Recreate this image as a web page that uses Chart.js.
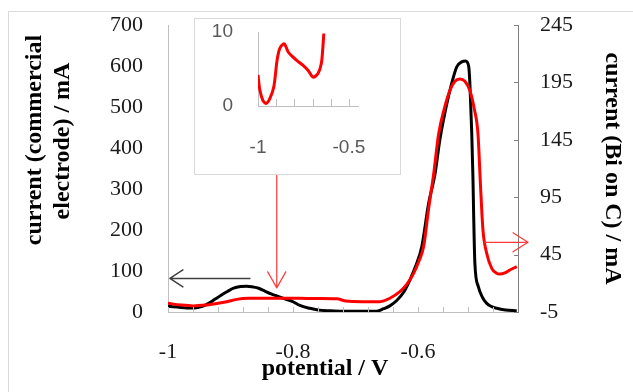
<!DOCTYPE html>
<html><head><meta charset="utf-8">
<script src="https://cdn.jsdelivr.net/npm/chart.js@4.4.1/dist/chart.umd.min.js"></script>
<style>
html,body{margin:0;padding:0;background:#fff;overflow:hidden;width:633px;height:392px;}
#frame{position:absolute;left:8px;top:11px;width:700px;height:500px;border:1px solid #d9d9d9;}
#main{position:absolute;left:0;top:0;}
#insetBox{position:absolute;left:194px;top:18px;width:205px;height:155px;border:1px solid #d9d9d9;background:#fff;}
#inset{position:absolute;left:0;top:0;}
</style></head><body>
<div id="frame"></div>
<canvas id="main" width="633" height="392"></canvas>
<div id="insetBox"><canvas id="inset" width="205" height="155"></canvas></div>
<script>
// ---- data ----
const potentialBlack = [-1.000,-0.985,-0.970,-0.958,-0.945,-0.935,-0.925,-0.915,-0.905,-0.895,-0.884,-0.874,-0.864,-0.855,-0.845,-0.835,-0.826,-0.813,-0.800,-0.789,-0.773,-0.760,-0.740,-0.720,-0.700,-0.680,-0.666,-0.655,-0.645,-0.634,-0.623,-0.613,-0.603,-0.594,-0.583,-0.573,-0.565,-0.555,-0.546,-0.538,-0.530,-0.524,-0.519,-0.517,-0.514,-0.512,-0.511,-0.509,-0.5035,-0.497,-0.490,-0.482,-0.474,-0.460,-0.442];
const currentCommercial = [14,12,10,10,14,21,31,41,50,58,62,63,61,58,51,44,39,32,25,16,9,5,3,2,2,2,2,8,15,28,48,78,115,159,265,335,420,500,558,598,610,612,600,558,436,322,241,119,62,36,21,13,9,5,3];

const potentialRed = [-1.000,-0.980,-0.960,-0.940,-0.920,-0.906,-0.890,-0.870,-0.850,-0.820,-0.790,-0.760,-0.730,-0.715,-0.690,-0.661,-0.645,-0.629,-0.618,-0.607,-0.598,-0.591,-0.583,-0.575,-0.567,-0.558,-0.549,-0.541,-0.533,-0.525,-0.517,-0.510,-0.504,-0.500,-0.496,-0.490,-0.482,-0.475,-0.469,-0.461,-0.453,-0.442];
const currentBiOnC = [2.6,1.1,0.3,1.0,2.6,4.0,6.0,6.9,7.0,7.0,6.9,6.7,6.5,4.5,4.0,4.0,7.0,12.7,19,28.7,40,52,85,115,150,172,188,196,198,196,188,172,150,105,66,46,33,29,28,29,31.6,34.5];

const insetPotential = [-1.000,-0.990,-0.974,-0.956,-0.935,-0.913,-0.895,-0.880,-0.856,-0.834,-0.807,-0.779,-0.752,-0.724,-0.697,-0.670,-0.652,-0.643,-0.638];
const insetCurrent = [4.2,2.2,0.8,0.35,1.0,2.6,6.2,7.8,8.4,7.3,6.6,6.0,5.5,4.8,3.9,4.4,5.7,8.0,9.8];

const xTickValues = [-1, -0.8, -0.6];
const xTickLabels = ['-1', '-0.8', '-0.6'];
const xMinorTickValues = [-1,-0.96,-0.92,-0.88,-0.84,-0.8,-0.76,-0.72,-0.68,-0.64,-0.6,-0.56,-0.52,-0.48];
const leftTickValues = [0,100,200,300,400,500,600,700];
const rightTickValues = [-5,45,95,145,195,245];
const insetXTickValues = [-1, -0.5];
const insetXTickLabels = ['-1', '-0.5'];
const insetXMinorTickValues = [-1,-0.9,-0.8,-0.7,-0.6,-0.5];
const insetYTickValues = [0, 10];

const xTitle = 'potential / V';
const leftTitle = ['current (commercial', 'electrode) / mA'];
const rightTitle = 'current (Bi on C) / mA';

// annotation arrows, in data coordinates
const arrows = [
  {yAxis:'y',  x1:-0.869, y1:82,    x2:-0.997, y2:82,   color:'#404040', width:1.5, head:13, half:8.5},
  {yAxis:'y1', x1:-0.826, y1:114,   x2:-0.826, y2:16,   color:'#ff3b3b', width:1.2, head:16, half:9},
  {yAxis:'y1', x1:-0.493, y1:55.7,  x2:-0.424, y2:55.7, color:'#ff3b3b', width:1.2, head:15, half:9.5}
];

const serif = '"Liberation Serif", "Times New Roman", serif';
const sans = '"Liberation Sans", Arial, sans-serif';

function toPoints(xs, ys){ return xs.map((x,i)=>({x:x, y:ys[i]})); }
function noPad(s){ s.paddingTop = 0; s.paddingBottom = 0; s.paddingLeft = 0; s.paddingRight = 0; }

function drawArrow(ctx, x1, y1, x2, y2, color, width, headLen, half){
  const ang = Math.atan2(y2-y1, x2-x1);
  const c = Math.cos(ang), s = Math.sin(ang);
  ctx.strokeStyle = color; ctx.lineWidth = width; ctx.lineCap='round'; ctx.lineJoin='round';
  ctx.beginPath();
  ctx.moveTo(x1, y1); ctx.lineTo(x2, y2);
  ctx.moveTo(x2 - headLen*c + half*s, y2 - headLen*s - half*c);
  ctx.lineTo(x2, y2);
  ctx.lineTo(x2 - headLen*c - half*s, y2 - headLen*s + half*c);
  ctx.stroke();
}

const mainDecor = {
  id: 'mainDecor',
  afterDatasetsDraw(chart){
    const {ctx, chartArea} = chart;
    const x = chart.scales.x, y1 = chart.scales.y1;
    ctx.save();
    ctx.strokeStyle = '#bfbfbf'; ctx.lineWidth = 1;
    for (const v of xMinorTickValues){
      const px = Math.round(x.getPixelForValue(v)) + 0.5;
      ctx.beginPath(); ctx.moveTo(px, chartArea.bottom); ctx.lineTo(px, chartArea.bottom - 5); ctx.stroke();
    }
    ctx.strokeStyle = '#808080';
    for (const v of rightTickValues){
      const py = Math.round(y1.getPixelForValue(v)) + 0.5;
      ctx.beginPath(); ctx.moveTo(chartArea.right, py); ctx.lineTo(chartArea.right - 4, py); ctx.stroke();
    }
    for (const a of arrows){
      const sc = chart.scales[a.yAxis];
      drawArrow(ctx, x.getPixelForValue(a.x1), sc.getPixelForValue(a.y1), x.getPixelForValue(a.x2), sc.getPixelForValue(a.y2), a.color, a.width, a.head, a.half);
    }
    ctx.fillStyle = '#000';
    ctx.font = 'bold 24px ' + serif;
    ctx.textAlign = 'center'; ctx.textBaseline = 'middle';
    ctx.fillText(xTitle, 325, 369);
    ctx.save();
    ctx.translate(35, 140); ctx.rotate(-Math.PI/2);
    ctx.fillText(leftTitle[0], 0, 0);
    ctx.restore();
    ctx.save();
    ctx.translate(63, 141); ctx.rotate(-Math.PI/2);
    ctx.fillText(leftTitle[1], 0, 0);
    ctx.restore();
    ctx.restore();
  }
};

new Chart(document.getElementById('main'), {
  type: 'line',
  data: {
    datasets: [
      {label:'Bi on C', data: toPoints(potentialRed, currentBiOnC), yAxisID:'y1', borderColor:'#ff0000', borderWidth:3, pointRadius:0, cubicInterpolationMode:'monotone', order:0},
      {label:'commercial electrode', data: toPoints(potentialBlack, currentCommercial), yAxisID:'y', borderColor:'#000000', borderWidth:3, pointRadius:0, cubicInterpolationMode:'monotone', order:1}
    ]
  },
  options: {
    responsive:false, devicePixelRatio:1, animation:false,
    layout:{padding:{top:25, left:0, right:0, bottom:0}},
    plugins:{legend:{display:false}, tooltip:{enabled:false}},
    scales:{
      x:{type:'linear', position:'bottom', min:-1, max:-0.44,
        afterBuildTicks(s){ s.ticks = xTickValues.map(v=>({value:v})); },
        afterFit(s){ s.height = 80; noPad(s); },
        grid:{display:false, drawTicks:false},
        border:{display:true, color:'#bfbfbf', width:1},
        ticks:{padding:27, color:'#1a1a1a', font:{family:serif, size:22}, maxRotation:0, autoSkip:false,
          callback(v){ const i = xTickValues.findIndex(t=>Math.abs(t-v)<1e-6); return i>=0 ? xTickLabels[i] : ''; }}
      },
      y:{type:'linear', position:'left', min:0, max:700,
        afterBuildTicks(s){ s.ticks = leftTickValues.map(v=>({value:v})); },
        afterFit(s){ s.width = 168; noPad(s); },
        grid:{display:false, drawTicks:false},
        border:{display:true, color:'#bfbfbf', width:1},
        ticks:{padding:25, color:'#1a1a1a', font:{family:serif, size:22}}
      },
      y1:{type:'linear', position:'right', min:-5, max:245,
        afterBuildTicks(s){ s.ticks = rightTickValues.map(v=>({value:v})); },
        afterFit(s){ s.width = 115; noPad(s); },
        grid:{display:false, drawTicks:false},
        border:{display:true, color:'#808080', width:1},
        ticks:{padding:22, color:'#1a1a1a', font:{family:serif, size:22}},
        title:{display:true, text:rightTitle, color:'#000', font:{family:serif, size:24, weight:'bold'}, padding:{top:6,bottom:6}}
      }
    }
  },
  plugins:[mainDecor]
});

const insetDecor = {
  id:'insetDecor',
  afterDatasetsDraw(chart){
    const {ctx, chartArea} = chart;
    const x = chart.scales.x;
    ctx.save();
    ctx.strokeStyle = '#bfbfbf'; ctx.lineWidth = 1;
    for (const v of insetXMinorTickValues){
      const px = Math.round(x.getPixelForValue(v)) + 0.5;
      ctx.beginPath(); ctx.moveTo(px, chartArea.bottom); ctx.lineTo(px, chartArea.bottom - 7); ctx.stroke();
    }
    ctx.restore();
  }
};

new Chart(document.getElementById('inset'), {
  type:'line',
  data:{datasets:[{label:'inset', data: toPoints(insetPotential, insetCurrent), borderColor:'#ff0000', borderWidth:3, pointRadius:0, tension:0.3}]},
  options:{
    responsive:false, devicePixelRatio:1, animation:false,
    layout:{padding:{top:13, left:0, right:42, bottom:0}},
    plugins:{legend:{display:false}, tooltip:{enabled:false}},
    scales:{
      x:{type:'linear', min:-1, max:-0.45,
        afterBuildTicks(s){ s.ticks = insetXTickValues.map(v=>({value:v})); },
        afterFit(s){ s.height = 68; noPad(s); },
        grid:{display:false, drawTicks:false},
        border:{display:true, color:'#bfbfbf', width:1},
        ticks:{padding:30, color:'#595959', font:{family:sans, size:19}, maxRotation:0, autoSkip:false,
          callback(v){ const i = insetXTickValues.findIndex(t=>Math.abs(t-v)<1e-6); return i>=0 ? insetXTickLabels[i] : ''; }}
      },
      y:{type:'linear', min:0, max:10,
        afterBuildTicks(s){ s.ticks = insetYTickValues.map(v=>({value:v})); },
        afterFit(s){ s.width = 63; noPad(s); },
        grid:{display:false, drawTicks:false},
        border:{display:true, color:'#bfbfbf', width:1},
        ticks:{padding:25, color:'#595959', font:{family:sans, size:19}}
      }
    }
  },
  plugins:[insetDecor]
});
</script></body></html>
